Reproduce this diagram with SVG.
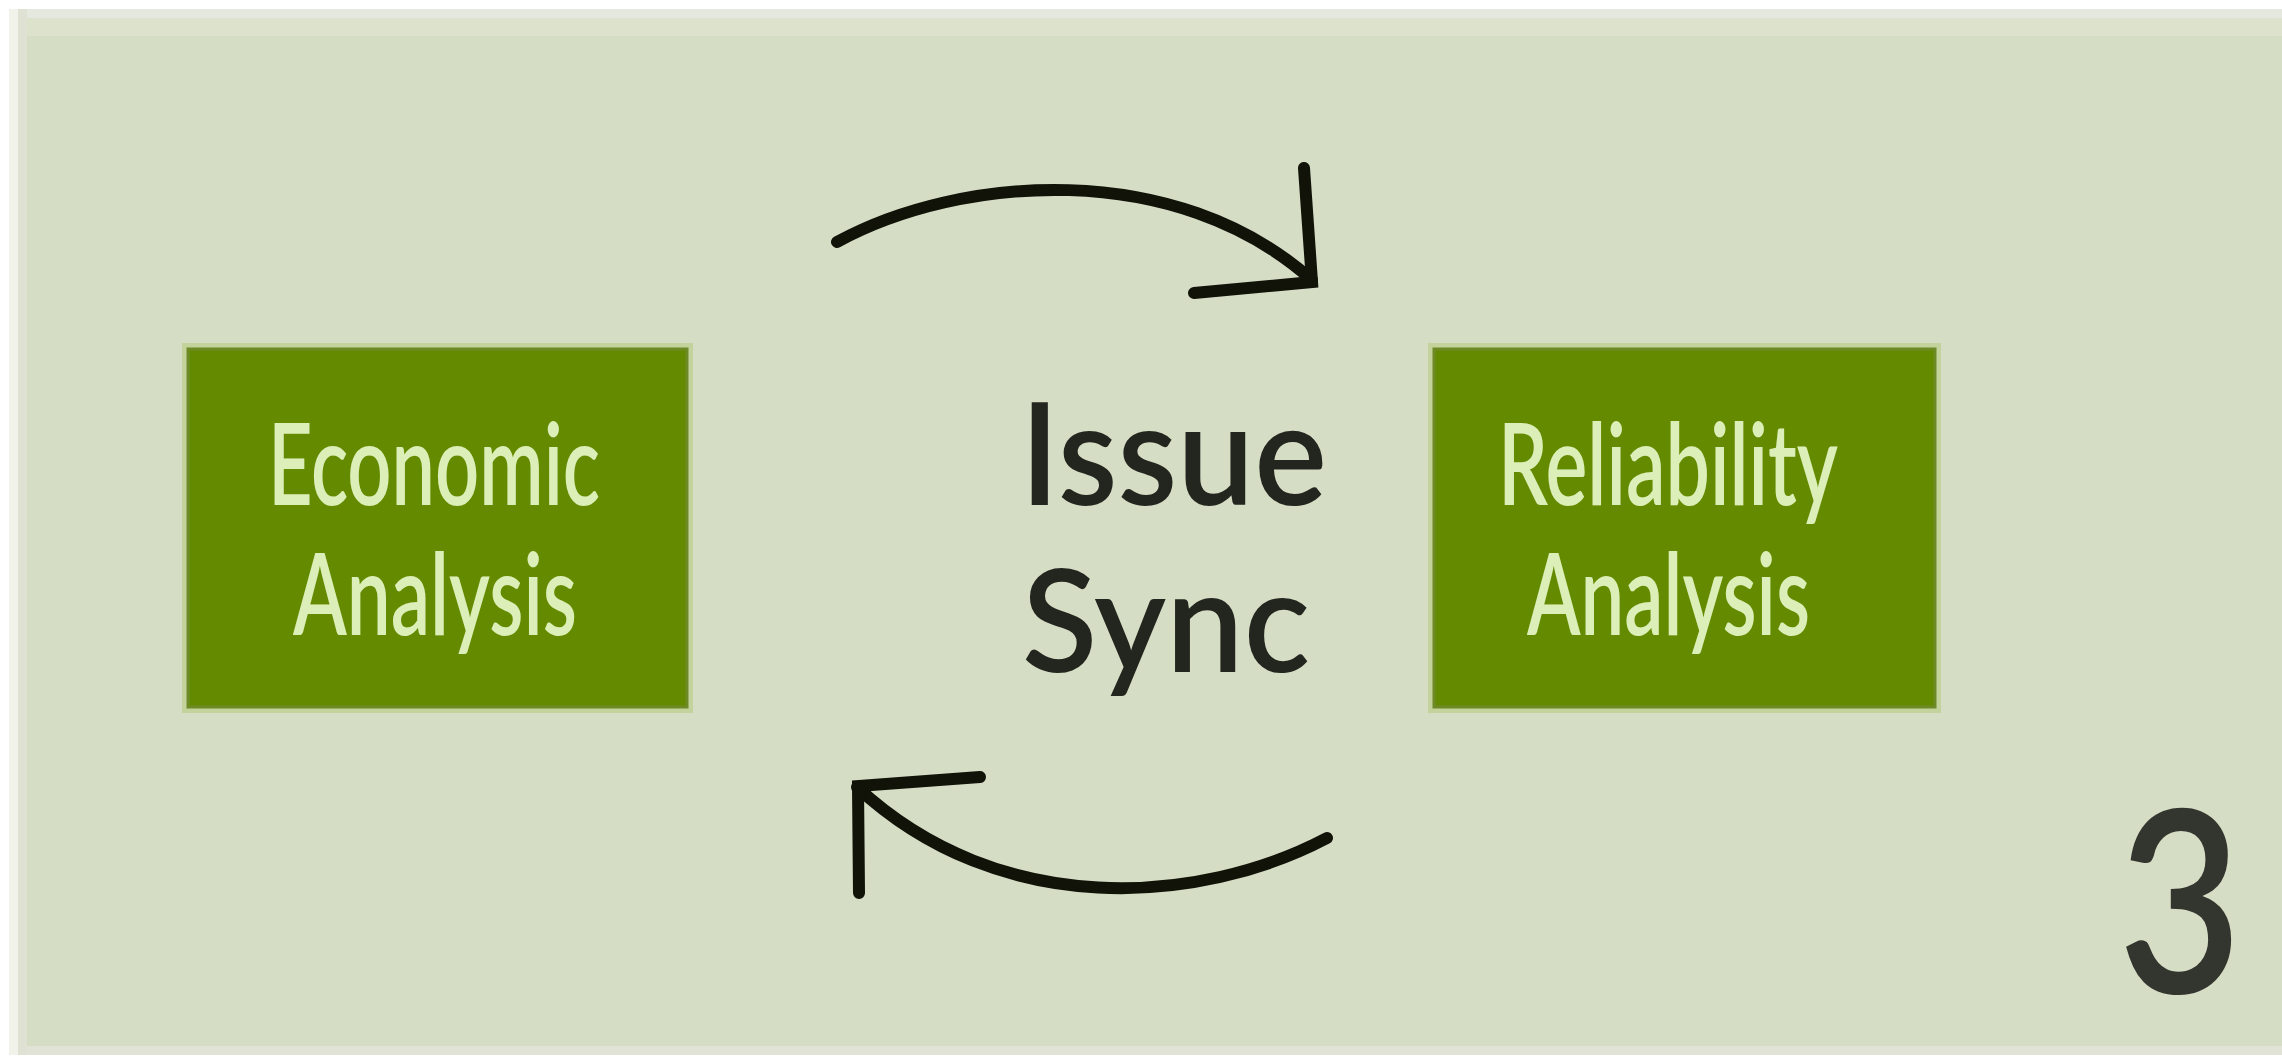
<svg xmlns="http://www.w3.org/2000/svg" width="2282" height="1064" viewBox="0 0 2282 1064">
  <defs>
    <style>
      .box { fill: #648b00; stroke: #6e8a26; stroke-width: 3; }
      .halo { fill: #c4d29c; }
      .boxtext { font-family: Lato, "Open Sans", "Liberation Sans", sans-serif; font-size: 114px; font-weight: 600; fill: #dcefb8; }
      .midtext { font-family: Lato, "Open Sans", "Liberation Sans", sans-serif; font-size: 142px; font-weight: 600; fill: #23261e; }
      .conn { fill: none; stroke: #111309; stroke-width: 12; stroke-linecap: round; stroke-linejoin: miter; }
    </style>
  </defs>
  <rect x="0" y="0" width="2282" height="1064" fill="#ffffff"/>
  <g id="panel">
    <rect x="9" y="9" width="2273" height="1046" fill="#f1f3ea"/>
    <rect x="18" y="9" width="2264" height="1046" fill="#d6ddc5"/>
    <rect x="18" y="9" width="2264" height="9" fill="#e5e8df"/>
    <rect x="18" y="18" width="2264" height="18" fill="#dde2cd"/>
    <rect x="18" y="1046" width="2264" height="9" fill="#e0e3d5"/>
    <rect x="18" y="9" width="9" height="1046" fill="#dfe1d2"/>
  </g>
  <g id="node-economic">
    <rect class="halo" x="182" y="343" width="511" height="370"/>
    <rect class="box" x="188" y="349" width="499" height="358"/>
    <text class="boxtext" x="268" y="505" textLength="332" lengthAdjust="spacingAndGlyphs">Economic</text>
    <text class="boxtext" x="293" y="635" textLength="284" lengthAdjust="spacingAndGlyphs">Analysis</text>
  </g>
  <g id="node-issue-sync">
    <text class="midtext" x="1020" y="505" textLength="307" lengthAdjust="spacingAndGlyphs">Issue</text>
    <text class="midtext" x="1022" y="672" textLength="288" lengthAdjust="spacingAndGlyphs">Sync</text>
  </g>
  <g id="node-reliability">
    <rect class="halo" x="1428" y="343" width="513" height="370"/>
    <rect class="box" x="1434" y="349" width="501" height="358"/>
    <text class="boxtext" x="1498" y="505" textLength="340" lengthAdjust="spacingAndGlyphs">Reliability</text>
    <text class="boxtext" x="1527" y="635" textLength="283" lengthAdjust="spacingAndGlyphs">Analysis</text>
  </g>
  <g id="connectors">
    <path class="conn" d="M837,242 C960,175 1175,158 1312,280"/>
    <polyline class="conn" points="1304,168 1312,282 1194,293"/>
    <path class="conn" d="M1327,838 C1200,905 1000,920 857,787"/>
    <polyline class="conn" points="980,777 858,786 859,893"/>
  </g>
  <g id="page-number">
    <text x="2118" y="993" font-family="Lato, 'Open Sans', 'Liberation Sans', sans-serif" font-size="254" font-weight="600" fill="#33362e" textLength="124" lengthAdjust="spacingAndGlyphs">3</text>
  </g>
</svg>
